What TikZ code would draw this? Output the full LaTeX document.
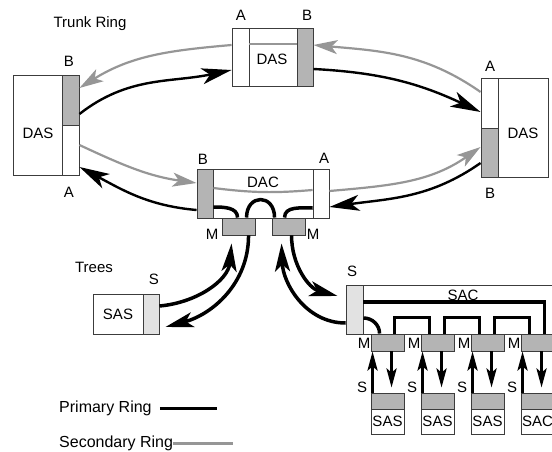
\documentclass[tikz,border=0pt]{standalone}
\usepackage{fontspec}
\setmainfont{Liberation Sans}
\usepackage{xcolor}
\definecolor{portgray}{RGB}{180,180,180}
\definecolor{slight}{RGB}{226,226,226}
\definecolor{ringgray}{RGB}{150,150,150}
\definecolor{edge}{RGB}{60,60,60}
\usetikzlibrary{arrows.meta, calc}

\begin{document}
\begin{tikzpicture}[
    x=1pt, y=1pt,
    font=\fontsize{15}{18}\selectfont,
    unit/.style={rectangle, draw=edge, fill=white, line width=0.9pt, inner sep=0pt},
    porta/.style={unit, minimum width=17pt},
    portb/.style={unit, fill=portgray, minimum width=17pt},
    mport/.style={unit, fill=portgray, minimum width=33pt, minimum height=17pt},
    sport/.style={unit, fill=slight},
    tag/.style={inner sep=0pt},
    prim/.style={line width=2.4pt, black},
    sec/.style={line width=2.2pt, ringgray},
    parr/.style={prim, -{Stealth[length=30pt,width=16pt,inset=8pt]}},
    sarr/.style={sec, -{Stealth[length=24pt,width=14pt,inset=6pt]}},
    link/.style={line width=3.5pt, black},
    tarr/.style={link, -{Stealth[length=28pt,width=15pt,inset=7pt]}},
    darr/.style={line width=3pt, -{Stealth[length=19pt,width=10pt,inset=4pt]}}
]
    \useasboundingbox (0,0) rectangle (552,-452);
    \clip (0,0) rectangle (552,-452);

    % trunk ring stations
    \node[unit, minimum width=49pt, minimum height=100pt] (ldas) at (37.5,-125) {};
    \node[portb, minimum height=50pt] (ldasb) at (70.5,-100) {};
    \node[porta, minimum height=50pt] (ldasa) at (70.5,-150) {};
    \node[tag] (ldast) at (38,-133) {DAS};

    \node[porta, minimum height=58pt] (tdasa) at (240.5,-57) {};
    \node[unit, minimum width=48pt, minimum height=58pt] (tdas) at (273,-57) {};
    \node[portb, minimum width=16pt, minimum height=58pt] (tdasb) at (305,-57) {};
    \node[tag] (tdast) at (272,-59) {DAS};

    \node[porta, minimum height=50pt] (rdasa) at (489.5,-103) {};
    \node[portb, minimum height=49pt] (rdasb) at (489.5,-152.5) {};
    \node[unit, minimum width=50pt, minimum height=99pt] (rdas) at (523,-127.5) {};
    \node[tag] (rdast) at (523,-133) {DAS};

    \node[portb, minimum width=16pt, minimum height=49pt] (dacb) at (205,-193.5) {};
    \node[unit, minimum width=100pt, minimum height=49pt] (dac) at (263,-193.5) {};
    \node[porta, minimum width=16pt, minimum height=49pt] (daca) at (321,-193.5) {};
    \node[tag] (dact) at (263,-182) {DAC};
    \node[mport] (dacm1) at (238.5,-226.5) {};
    \node[mport] (dacm2) at (288.5,-226.5) {};

    \node[tag] (title) at (90,-24) {Trunk Ring};
    \node[tag] (lb1) at (69,-61) {B};
    \node[tag] (lb2) at (69,-192) {A};
    \node[tag] (lb3) at (241,-15) {A};
    \node[tag] (lb4) at (307,-15) {B};
    \node[tag] (lb5) at (490,-66) {A};
    \node[tag] (lb6) at (490,-193) {B};
    \node[tag] (lb7) at (203,-159) {B};
    \node[tag] (lb8) at (324,-158) {A};
    \node[tag] (lb9) at (212,-234) {M};
    \node[tag] (lb10) at (313,-234) {M};

    % secondary ring
    \draw[sarr] ([yshift=11]rdasa.west) to[out=145,in=-5] ([yshift=12]tdasb.east);
    \draw[sec] ([yshift=13]tdasb.west) -- ([yshift=13]tdasa.east);
    \draw[sarr] ([yshift=12]tdasa.west) to[out=185,in=32] ([yshift=12]ldasb.east);
    \draw[sarr] ([yshift=5]ldasa.east) to[out=-25,in=172] ([yshift=10.5]dacb.west);
    \draw[sec] ([yshift=5.5]dacb.east) to[bend right=6] ([yshift=3.5]daca.west);
    \draw[sarr] ([yshift=2.5]daca.east) to[out=5,in=215] ([yshift=5.5]rdasb.west);

    % primary ring
    \draw[parr] ([yshift=-14]ldasb.east) to[out=38,in=192] ([yshift=-13]tdasa.west);
    \draw[parr] ([yshift=-12]tdasb.east) to[out=-3,in=155] ([yshift=-9]rdasa.west);
    \draw[parr] ([yshift=-10.5]rdasb.west) to[out=215,in=8] ([yshift=-13.5]daca.east);
    \draw[parr] ([yshift=-16.5]dacb.west) to[out=175,in=-28] ([yshift=-17]ldasa.east);

    % inside the concentrator
    \draw[link] ([yshift=-13.5]dacb.east) to[out=0,in=90] ([xshift=16]dacm1.north west);
    \draw[link] ([xshift=25]dacm1.north west) .. controls +(0,24) and +(0,24) .. ([xshift=3]dacm2.north west);
    \draw[link] ([xshift=13]dacm2.north west) to[out=90,in=180] ([yshift=-14.5]daca.west);

    % trees
    \node[tag] (trees) at (94,-267) {Trees};
    \node[unit, minimum width=50pt, minimum height=40pt] (tsas) at (118,-314) {SAS};
    \node[sport, minimum width=16pt, minimum height=40pt] (tsass) at (151,-314) {};
    \node[tag] (lb11) at (154,-279) {S};
    \draw[tarr] ([yshift=8]tsass.east) to[out=5,in=-95] ([xshift=10,yshift=-8]dacm1.south west);
    \draw[tarr] ([xshift=27]dacm1.south west) to[out=-90,in=15] ([xshift=6,yshift=-13]tsass.east);

    \node[unit, minimum width=237pt, minimum height=49pt] (sac) at (481.5,-309.5) {};
    \node[sport, minimum width=17pt, minimum height=49pt] (sacs) at (354.5,-309.5) {};
    \node[tag] (sact) at (463,-295) {SAC};
    \node[tag] (lb12) at (352,-271) {S};
    \draw[tarr] ([yshift=-13.5]sacs.west) to[out=180,in=-88] ([xshift=10,yshift=-8]dacm2.south west);
    \draw[tarr] ([xshift=20]dacm2.south west) to[out=-90,in=165] ([xshift=-8,yshift=13.5]sacs.west);

    \foreach \i/\kind in {1/SAS,2/SAS,3/SAS,4/SAC}{
        \node[mport] (m\i) at ({387.5+50*(\i-1)},-342.5) {};
        \node[tag] (ml\i) at ({364+50*(\i-1)},-343) {M};
        \node[unit, fill=portgray, minimum width=33pt, minimum height=16pt] (hd\i) at ({387.5+50*(\i-1)},-401) {};
        \node[unit, minimum width=33pt, minimum height=25pt] (sas\i) at ({387.5+50*(\i-1)},-421.5) {\kind};
        \node[tag] (sl\i) at ({362+50*(\i-1)},-387) {S};
        \draw[darr] ([xshift=2]hd\i.north west) -- ([xshift=2]m\i.south west);
        \draw[darr] ([xshift=21]m\i.south west) -- ([xshift=21,yshift=5]hd\i.north west);
    }
    \draw[link] ([yshift=7.5]sacs.east) -| ([xshift=24]m4.north west);
    \draw[link] ([yshift=-8.5]sacs.east) to[out=0,in=90] ([xshift=9]m1.north west);
    \foreach \i/\j in {1/2,2/3,3/4}
        \draw[link] ([xshift=24]m\i.north west) -- ++(0,16) -| ([xshift=9]m\j.north west);

    % legend
    \node[tag, anchor=west, font=\fontsize{16}{19}\selectfont] (lgp) at (59,-408) {Primary Ring};
    \node[tag, anchor=west, font=\fontsize{16}{19}\selectfont] (lgs) at (59,-443) {Secondary Ring};
    \draw[line width=3pt] ([xshift=8]lgp.east) -- ++(57,0);
    \draw[line width=3pt, ringgray] (lgs.east) -- ++(60,0);
\end{tikzpicture}
\end{document}
